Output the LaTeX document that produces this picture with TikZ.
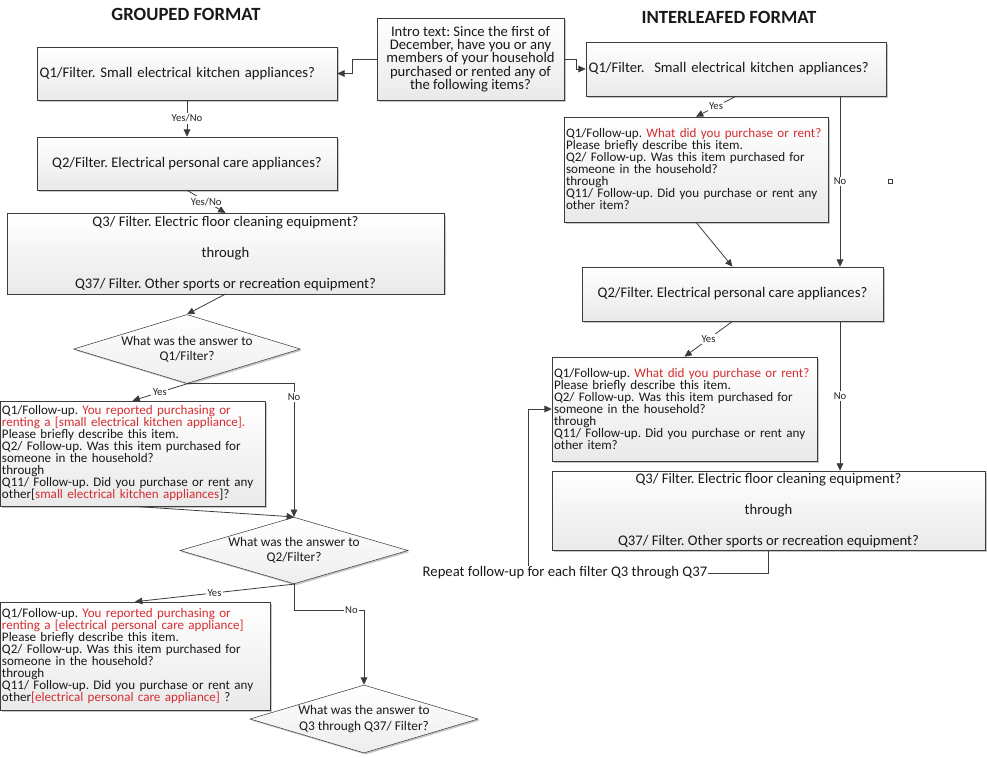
\documentclass[tikz,border=0pt]{standalone}
\usepackage{fontspec}
\setmainfont{Carlito}
\frenchspacing
\usetikzlibrary{arrows.meta,shapes.geometric,shadows}
\tikzset{every shadow/.style={fill=black,opacity=0.22,shadow xshift=1.2pt,shadow yshift=-1.2pt}}
\definecolor{askred}{RGB}{214,45,50}
\definecolor{linegray}{RGB}{60,60,60}
\newcommand{\Ask}[1]{\textcolor{askred}{#1}}
\newcommand{\tightskip}{\lineskiplimit-10pt\relax}
\tikzset{
  box/.style={draw=linegray,top color=white,bottom color=gray!17,drop shadow,inner sep=2pt,text=black!90},
  filter/.style={box,font=\fontsize{11}{13}\selectfont},
  follow/.style={box,font=\fontsize{9.8}{9}\selectfont\tightskip,align=left,inner xsep=1.5pt},
  decision/.style={diamond,draw=linegray,top color=white,bottom color=gray!14,drop shadow,inner sep=0pt},
  dtext/.style={align=center,font=\fontsize{10}{11.5}\selectfont,text=black!90},
  heading/.style={font=\fontsize{14}{16}\selectfont\bfseries,text=black!90},
  arr/.style={linegray,line width=0.6pt,-{Triangle[length=5.5pt,width=5pt]}},
  lbl/.style={font=\fontsize{8}{9}\selectfont,fill=white,inner sep=1pt,text=black!85}
}

\begin{document}
\begin{tikzpicture}[x=0.75pt,y=-0.75pt]
\useasboundingbox (0,0) rectangle (987,757);
% headings and intro
\node (grp) [heading] at (186,14) {GROUPED FORMAT};
\node (itl) [heading] at (729,17) {INTERLEAFED FORMAT};
\node (intro) [box,font=\fontsize{11}{10}\selectfont\tightskip,align=center,minimum width=140.25pt,minimum height=61.5pt] at (470.5,59)
  {Intro text: Since the first of\\December, have you or any\\members of your household\\purchased or rented any of\\the following items?};
%
% grouped format
\node (gq1) [filter,align=left,text width=221pt,minimum height=39.75pt] at (187,73.5) {Q1/Filter. Small electrical kitchen appliances?};
\node (gq2) [filter,align=center,minimum width=225pt,minimum height=39.75pt] at (187,163.5) {Q2/Filter. Electrical personal care appliances?};
\node (gq3) [filter,align=center,minimum width=327.75pt,minimum height=59.25pt] at (225.5,253.5)
  {Q3/ Filter. Electric floor cleaning equipment?\\[10.5pt]through\\[10.5pt]Q37/ Filter. Other sports or recreation equipment?};
\node (gd1) [decision,minimum width=170pt,minimum height=51.75pt,label={[dtext]center:What was the answer to\\Q1/Filter?}] at (187,349) {};
\node (gf1) [follow,text width=195.75pt,minimum height=78.75pt] at (132.5,453.5)
  {Q1/Follow-up. \Ask{You reported purchasing or}\\\Ask{renting a [small electrical kitchen appliance].}\\Please briefly describe this item.\\Q2/ Follow-up. Was this item purchased for\\someone in the household?\\through\\Q11/ Follow-up. Did you purchase or rent any\\other[\Ask{small electrical kitchen appliances}]?};
\node (gd2) [decision,minimum width=171pt,minimum height=50pt,label={[dtext]center:What was the answer to\\Q2/Filter?}] at (294,550.5) {};
\node (gf2) [follow,text width=199.5pt,minimum height=81pt] at (135,656)
  {Q1/Follow-up. \Ask{You reported purchasing or}\\\Ask{renting a [electrical personal care appliance]}\\Please briefly describe this item.\\Q2/ Follow-up. Was this item purchased for\\someone in the household?\\through\\Q11/ Follow-up. Did you purchase or rent any\\other\Ask{[electrical personal care appliance]} ?};
\node (gd3) [decision,minimum width=171pt,minimum height=51pt,label={[dtext]center:What was the answer to\\Q3 through Q37/ Filter?}] at (364,719) {};
%
% interleafed format
\node (iq1) [filter,align=left,text width=221pt,minimum height=40.5pt] at (736,69) {Q1/Filter.\ \ Small electrical kitchen appliances?};
\node (if1) [follow,text width=195pt,minimum height=78.75pt] at (696,169.5)
  {Q1/Follow-up. \Ask{What did you purchase or rent?}\\Please briefly describe this item.\\Q2/ Follow-up. Was this item purchased for\\someone in the household?\\through\\Q11/ Follow-up. Did you purchase or rent any\\other item?};
\node (iq2) [filter,align=center,minimum width=225.75pt,minimum height=40.5pt] at (732.5,294) {Q2/Filter. Electrical personal care appliances?};
\node (if2) [follow,text width=195.75pt,minimum height=78pt] at (684.5,409)
  {Q1/Follow-up. \Ask{What did you purchase or rent?}\\Please briefly describe this item.\\Q2/ Follow-up. Was this item purchased for\\someone in the household?\\through\\Q11/ Follow-up. Did you purchase or rent any\\other item?};
\node (iq3) [filter,align=center,minimum width=324.75pt,minimum height=57.75pt] at (768.5,510.5)
  {Q3/ Filter. Electric floor cleaning equipment?\\[10pt]through\\[10pt]Q37/ Filter. Other sports or recreation equipment?};
\node (rep) [font=\fontsize{11}{13}\selectfont,inner sep=0pt,text=black!90] at (565,573) {Repeat follow-up for each filter Q3 through Q37};
\coordinate (nox) at (840,0);
\coordinate (rpx) at (528,0);
%
% connectors, grouped
\draw[arr] (intro.west) -- ++(-24,0) |- (gq1.east);
\path[arr] (gq1.south) edge node[lbl] {Yes/No} (gq2.north);
\path[arr] (gq2.south) edge node[lbl] {Yes/No} (gq3.north);
\path[arr] (gq3.south) edge (gd1.north);
\path[arr] (gd1.south) edge node[lbl] {Yes} (gf1.north);
\draw[arr] (gd1.south) -| node[lbl,pos=0.55] {No} (gd2.north);
\path[arr] (gf1.south) edge (gd2.north);
\path[arr] (gd2.south) edge node[lbl] {Yes} (gf2.north);
\draw[arr] (gd2.south) -- ++(0,26) -| node[lbl,pos=0.41] {No} (gd3.north);
%
% connectors, interleafed
\draw[arr] (intro.east) -- ++(12,0) |- (iq1.west);
\path[arr] (iq1.south) edge node[lbl] {Yes} (if1.north);
\path[arr] (iq1.south -| nox) edge node[lbl] {No} (iq2.north -| nox);
\path[arr] (if1.south) edge (iq2.north);
\path[arr] (iq2.south) edge node[lbl] {Yes} (if2.north);
\path[arr] (iq2.south -| nox) edge node[lbl] {No} (iq3.north -| nox);
\draw[linegray,line width=0.6pt] (iq3.south) |- (rep.east);
\draw[arr] (rep.north -| rpx) |- (if2.west);
\draw[linegray,line width=0.4pt] (888,179) rectangle (892,183);
\end{tikzpicture}
\end{document}
